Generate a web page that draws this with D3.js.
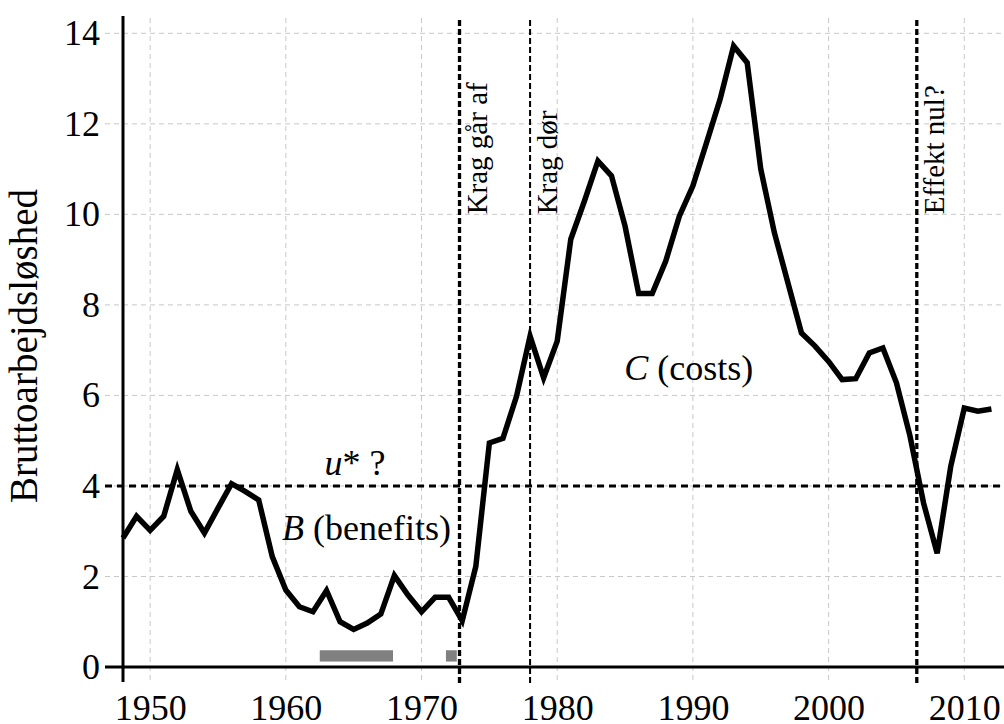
<!DOCTYPE html>
<html lang="da">
<head>
    <meta charset="UTF-8">
    <title>Bruttoarbejdsløshed</title>
    <script src="https://d3js.org/d3.v7.min.js"></script>
    <style>
        body {
            margin: 0;
            padding: 0;
            background: #fff;
        }

        svg {
            display: block;
        }
    </style>
</head>

<body>
<div class="chart-container"></div>

<script>
  /** data: gross unemployment rate (pct), one value per year */
  var years = [1948, 1949, 1950, 1951, 1952, 1953, 1954, 1955, 1956, 1957,
    1958, 1959, 1960, 1961, 1962, 1963, 1964, 1965, 1966, 1967,
    1968, 1969, 1970, 1971, 1972, 1973, 1974, 1975, 1976, 1977,
    1978, 1979, 1980, 1981, 1982, 1983, 1984, 1985, 1986, 1987,
    1988, 1989, 1990, 1991, 1992, 1993, 1994, 1995, 1996, 1997,
    1998, 1999, 2000, 2001, 2002, 2003, 2004, 2005, 2006, 2007,
    2008, 2009, 2010, 2011, 2012];
  var unemployment = [2.85, 3.33, 3.02, 3.33, 4.36, 3.44, 2.96, 3.51, 4.05, 3.88,
    3.69, 2.44, 1.70, 1.33, 1.22, 1.69, 1.00, 0.83, 0.97, 1.17,
    2.02, 1.59, 1.22, 1.54, 1.54, 1.02, 2.22, 4.95, 5.05, 5.98,
    7.31, 6.39, 7.20, 9.45, 10.29, 11.18, 10.85, 9.74, 8.25, 8.25,
    8.97, 9.96, 10.63, 11.58, 12.54, 13.72, 13.35, 11.00, 9.60, 8.49,
    7.38, 7.09, 6.75, 6.35, 6.37, 6.94, 7.05, 6.28, 5.10, 3.62,
    2.51, 4.43, 5.72, 5.65, 5.70];

  /** tick values */
  var xTicks = [1950, 1960, 1970, 1980, 1990, 2000, 2010];
  var yTicks = [0, 2, 4, 6, 8, 10, 12, 14];

  /** vertical event lines */
  var eventYears = [1972.8, 1978.0, 2006.5];
  var eventLabels = ['Krag går af', 'Krag dør', 'Effekt nul?'];

  /** natural rate guess */
  var uStar = 4;

  /** grey periods near the bottom */
  var periodStart = [1962.5, 1971.8];
  var periodEnd = [1967.9, 1972.6];

  var data = years.map(function (yr, i) {
    return {year: yr, value: unemployment[i]};
  });

  /** LAYOUT */
  var width = 1004, height = 724;
  var panelLeft = 105, panelRight = 1004, panelTop = 18, panelBottom = 683;
  var serif = '"Liberation Serif"';

  var x = d3.scaleLinear().domain([1948, 2013]).range([123, 1005]);
  var y = d3.scaleLinear().domain([0, 14]).range([667, 33.3]);

  var svg = d3.select('.chart-container')
    .append('svg')
    .attr('width', width)
    .attr('height', height)
    .style('font-family', serif);

  /** grid */
  var grid = svg.append('g').attr('class', 'grid')
    .attr('stroke', '#c8c8c8')
    .attr('stroke-width', 1)
    .attr('stroke-dasharray', '5,4');

  grid.selectAll('line.gx')
    .data(xTicks)
    .enter().append('line')
    .attr('class', 'gx')
    .attr('x1', function (d) { return x(d); })
    .attr('x2', function (d) { return x(d); })
    .attr('y1', panelTop)
    .attr('y2', panelBottom);

  grid.selectAll('line.gy')
    .data(yTicks)
    .enter().append('line')
    .attr('class', 'gy')
    .attr('x1', panelLeft)
    .attr('x2', panelRight)
    .attr('y1', function (d) { return y(d); })
    .attr('y2', function (d) { return y(d); });

  /** grey bars */
  svg.selectAll('rect.period')
    .data(periodStart)
    .enter().append('rect')
    .attr('class', 'period')
    .attr('x', function (d) { return x(d); })
    .attr('width', function (d, i) { return x(periodEnd[i]) - x(d); })
    .attr('y', y(0.37))
    .attr('height', y(0.12) - y(0.37))
    .attr('fill', '#808080');

  /** axis lines */
  svg.append('line')
    .attr('x1', panelLeft).attr('x2', panelRight)
    .attr('y1', y(0)).attr('y2', y(0))
    .attr('stroke', '#000').attr('stroke-width', 3);

  svg.append('line')
    .attr('x1', x(1948)).attr('x2', x(1948))
    .attr('y1', 16).attr('y2', 682)
    .attr('stroke', '#000').attr('stroke-width', 3);

  /** u* line */
  svg.append('line')
    .attr('x1', panelLeft).attr('x2', panelRight)
    .attr('y1', y(uStar)).attr('y2', y(uStar))
    .attr('stroke', '#000')
    .attr('stroke-width', 3)
    .attr('stroke-dasharray', '7,5');

  /** event lines + labels */
  var eventWidths = [3.3, 2, 3.3];
  svg.selectAll('line.event')
    .data(eventYears)
    .enter().append('line')
    .attr('class', 'event')
    .attr('x1', function (d) { return x(d); })
    .attr('x2', function (d) { return x(d); })
    .attr('y1', 20)
    .attr('y2', panelBottom)
    .attr('stroke', '#000')
    .attr('stroke-width', function (d, i) { return eventWidths[i]; })
    .attr('stroke-dasharray', '6,3');

  svg.selectAll('text.event')
    .data(eventYears)
    .enter().append('text')
    .attr('class', 'event')
    .attr('transform', function (d) {
      return 'translate(' + (x(d) + 27) + ',' + y(10) + ') rotate(-90)';
    })
    .style('font-family', serif)
    .attr('font-size', 29)
    .text(function (d, i) { return eventLabels[i]; });

  /** the series */
  var line = d3.line()
    .x(function (d) { return x(d.year); })
    .y(function (d) { return y(d.value); });

  svg.append('path')
    .datum(data)
    .attr('d', line)
    .attr('fill', 'none')
    .attr('stroke', '#000')
    .attr('stroke-width', 5.5)
    .attr('stroke-linejoin', 'miter');

  /** tick labels */
  var yAxis = svg.append('g')
    .attr('transform', 'translate(' + x(1948) + ',0)')
    .call(d3.axisLeft(y).tickValues(yTicks).tickSize(0).tickPadding(23));
  yAxis.select('.domain').remove();
  yAxis.attr('font-size', 36).attr('font-family', null);
  yAxis.selectAll('text').style('font-family', serif);

  var xAxis = svg.append('g')
    .attr('transform', 'translate(0,' + y(0) + ')')
    .call(d3.axisBottom(x).tickValues(xTicks).tickFormat(d3.format('d')).tickSize(0).tickPadding(27));
  xAxis.select('.domain').remove();
  xAxis.attr('font-size', 36).attr('font-family', null);
  xAxis.selectAll('text').style('font-family', serif);

  /** y title */
  svg.append('text')
    .attr('transform', 'translate(37,346) rotate(-90)')
    .attr('text-anchor', 'middle')
    .style('font-family', serif)
    .attr('font-size', 39)
    .text('Bruttoarbejdsløshed');

  /** annotations */
  function annotate(xPos, yPos, italic, rest) {
    var t = svg.append('text')
      .attr('x', x(xPos))
      .attr('y', y(yPos))
      .attr('text-anchor', 'middle')
      .style('font-family', serif)
      .attr('font-size', 36);
    t.append('tspan').attr('font-style', 'italic').text(italic);
    t.append('tspan').text(rest);
  }

  annotate(1965.1, 4.24, 'u', '* ?');
  annotate(1965.95, 2.81, 'B', ' (benefits)');
  annotate(1989.7, 6.34, 'C', ' (costs)');
</script>
</body>
</html>
